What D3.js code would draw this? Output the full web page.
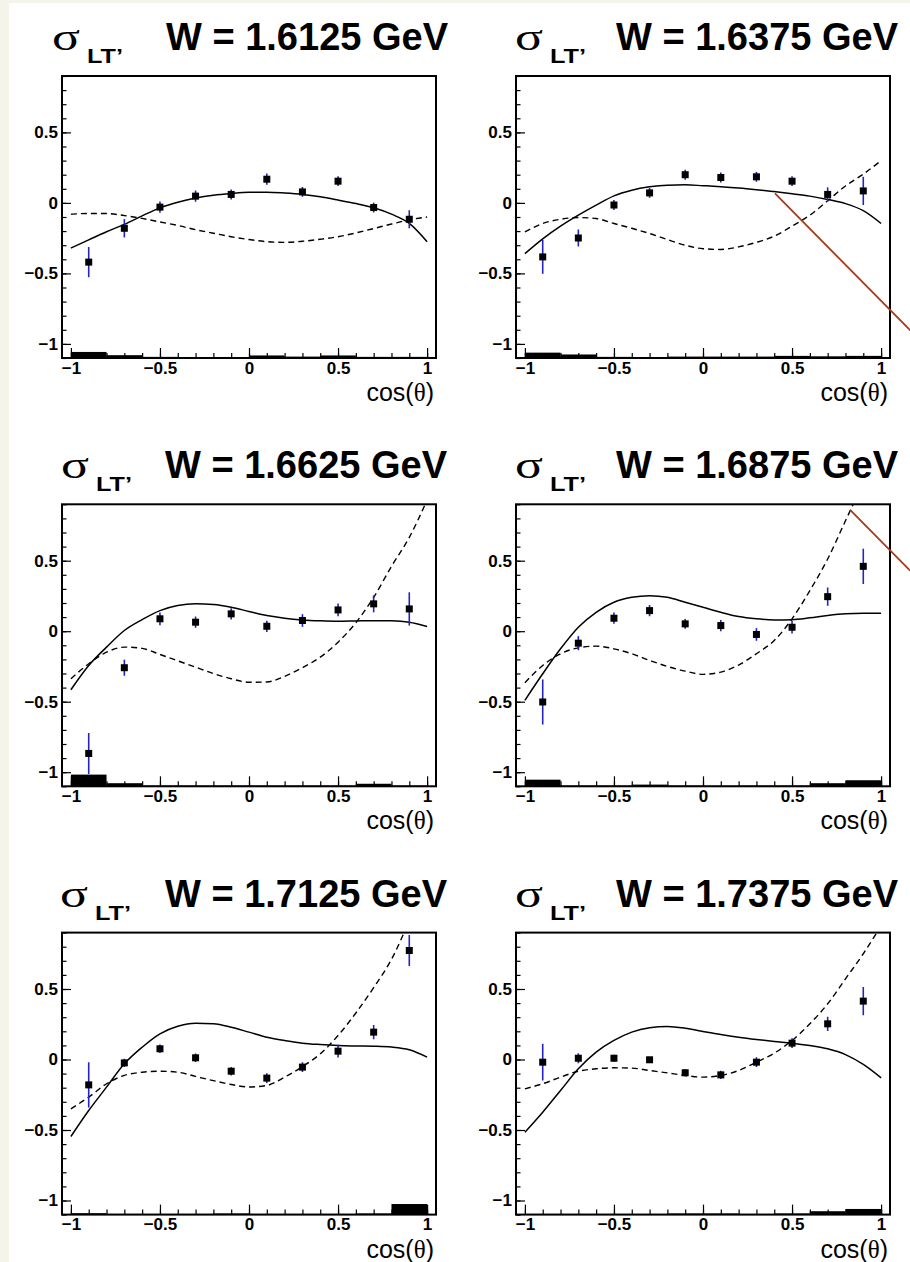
<!DOCTYPE html>
<html>
<head>
<meta charset="utf-8">
<script src="https://cdn.jsdelivr.net/npm/d3@7"></script>
<style>
  html, body { margin: 0; padding: 0; background: #ffffff; }
  svg { display: block; }
</style>
</head>
<body>
<script>
// ---- data -------------------------------------------------------------
const wLabels = ["1.6125", "1.6375", "1.6625", "1.6875", "1.7125", "1.7375"];

const cosBins = [-0.9, -0.7, -0.5, -0.3, -0.1, 0.1, 0.3, 0.5, 0.7, 0.9];

// measured sigma_LT' per W bin
const sigmaValues = [
  [-0.42, -0.18, -0.03, 0.048, 0.06, 0.168, 0.078, 0.154, -0.033, -0.116],
  [-0.383, -0.249, -0.015, 0.071, 0.20, 0.18, 0.185, 0.154, 0.06, 0.085],
  [-0.867, -0.259, 0.088, 0.064, 0.123, 0.035, 0.076, 0.151, 0.194, 0.158],
  [-0.502, -0.085, 0.092, 0.146, 0.052, 0.04, -0.023, 0.028, 0.245, 0.46],
  [-0.18, -0.024, 0.076, 0.012, -0.083, -0.132, -0.054, 0.059, 0.194, 0.773],
  [-0.019, 0.009, 0.009, -0.002, -0.094, -0.109, -0.019, 0.116, 0.253, 0.414]
];

// statistical uncertainties
const statErrors = [
  [0.107, 0.065, 0.04, 0.04, 0.035, 0.04, 0.035, 0.035, 0.035, 0.064],
  [0.12, 0.06, 0.035, 0.035, 0.035, 0.035, 0.035, 0.035, 0.05, 0.1],
  [0.145, 0.057, 0.045, 0.04, 0.04, 0.04, 0.045, 0.045, 0.06, 0.118],
  [0.16, 0.05, 0.04, 0.04, 0.035, 0.04, 0.045, 0.045, 0.065, 0.125],
  [0.16, 0.03, 0.03, 0.03, 0.03, 0.035, 0.035, 0.045, 0.05, 0.11],
  [0.13, 0.035, 0.025, 0.02, 0.025, 0.03, 0.035, 0.035, 0.05, 0.1]
];

// systematic uncertainties (drawn as a histogram on the bottom of the frame)
const sysErrors = [
  [0.043, 0.02, 0.008, 0.005, 0.005, 0.018, 0.01, 0.018, 0.008, 0.008],
  [0.038, 0.025, 0.008, 0.006, 0.01, 0.01, 0.01, 0.015, 0.012, 0.015],
  [0.083, 0.022, 0.005, 0.005, 0.005, 0.005, 0.005, 0.005, 0.018, 0.005],
  [0.047, 0.005, 0.005, 0.012, 0.005, 0.004, 0.005, 0.005, 0.022, 0.043],
  [0.01, 0.005, 0.005, 0.005, 0.008, 0.005, 0.005, 0.005, 0.008, 0.075],
  [0.005, 0.005, 0.005, 0.005, 0.008, 0.008, 0.005, 0.008, 0.024, 0.04]
];

// model curves sampled on a cos(theta) grid
const curveGrid = [-1, -0.9, -0.8, -0.7, -0.6, -0.5, -0.4, -0.3, -0.2, -0.1, 0,
                   0.1, 0.2, 0.3, 0.4, 0.5, 0.6, 0.7, 0.8, 0.9, 1];

const modelSolid = [
  [-0.32, -0.262, -0.205, -0.152, -0.092, -0.035, 0.005, 0.035, 0.055, 0.067, 0.075,
   0.076, 0.07, 0.06, 0.043, 0.02, -0.005, -0.035, -0.08, -0.145, -0.275],
  [-0.36, -0.255, -0.165, -0.087, -0.016, 0.05, 0.09, 0.114, 0.126, 0.128, 0.122,
   0.115, 0.106, 0.094, 0.08, 0.065, 0.048, 0.024, -0.005, -0.055, -0.146],
  [-0.415, -0.243, -0.113, 0.005, 0.082, 0.146, 0.182, 0.194, 0.189, 0.17, 0.14,
   0.111, 0.092, 0.08, 0.074, 0.071, 0.073, 0.075, 0.074, 0.064, 0.033],
  [-0.49, -0.302, -0.125, 0.028, 0.134, 0.205, 0.24, 0.252, 0.24, 0.205, 0.17,
   0.134, 0.104, 0.088, 0.08, 0.082, 0.095, 0.111, 0.123, 0.127, 0.127],
  [-0.546, -0.362, -0.196, -0.031, 0.087, 0.182, 0.236, 0.257, 0.253, 0.229, 0.194,
   0.158, 0.135, 0.116, 0.106, 0.099, 0.096, 0.094, 0.088, 0.069, 0.017],
  [-0.516, -0.374, -0.22, -0.066, 0.052, 0.135, 0.194, 0.225, 0.234, 0.222, 0.199,
   0.177, 0.158, 0.142, 0.128, 0.116, 0.099, 0.076, 0.035, -0.035, -0.13]
];

const modelDashed = [
  [-0.08, -0.075, -0.075, -0.09, -0.11, -0.135, -0.16, -0.19, -0.215, -0.24, -0.26,
   -0.275, -0.28, -0.272, -0.258, -0.24, -0.213, -0.182, -0.15, -0.12, -0.10],
  [-0.206, -0.146, -0.116, -0.104, -0.111, -0.146, -0.18, -0.217, -0.26, -0.30, -0.325,
   -0.33, -0.312, -0.28, -0.236, -0.165, -0.087, 0.015, 0.12, 0.204, 0.30],
  [-0.337, -0.231, -0.149, -0.113, -0.122, -0.165, -0.21, -0.255, -0.30, -0.337, -0.362,
   -0.36, -0.32, -0.259, -0.184, -0.078, 0.06, 0.24, 0.46, 0.665, 0.93],
  [-0.365, -0.243, -0.16, -0.118, -0.106, -0.125, -0.16, -0.207, -0.25, -0.283, -0.306,
   -0.29, -0.24, -0.16, -0.066, 0.088, 0.288, 0.512, 0.783, 1.05, 1.3],
  [-0.35, -0.267, -0.172, -0.113, -0.09, -0.083, -0.09, -0.12, -0.15, -0.177, -0.195,
   -0.184, -0.125, -0.05, 0.04, 0.17, 0.33, 0.51, 0.71, 0.98, 1.25],
  [-0.208, -0.172, -0.125, -0.083, -0.066, -0.059, -0.061, -0.078, -0.095, -0.113, -0.125,
   -0.113, -0.078, -0.019, 0.045, 0.135, 0.253, 0.395, 0.572, 0.75, 0.95]
];

// straight annotation strokes, endpoints in the panel's (cos theta, sigma) units
const pointerLines = [
  null,
  [[0.404, 0.067], [1.164, -0.904]],
  null,
  [[0.826, 0.861], [1.163, 0.43]],
  null,
  null
];

const xTickValues = [-1, -0.5, 0, 0.5, 1];
const xTickLabels = ["\u22121", "\u22120.5", "0", "0.5", "1"];
const yTickValues = [-1, -0.5, 0, 0.5];
const yTickLabels = ["\u22121", "\u22120.5", "0", "0.5"];

// ---- layout -------------------------------------------------------------
const W = 910, H = 1262;
const colLeft = [62, 516];
const rowTop = [76, 504.3, 932.6];
const frameW = 374, frameH = 282;
const sigmaLeft = [52, 515, 61, 515, 60, 515];
const titleRight = [448, 898, 447, 898, 447, 898];

const sans = "'Liberation Sans', Arial, Helvetica, sans-serif";
const serif = "'Liberation Serif', 'Times New Roman', serif";

const svg = d3.select("body").append("svg")
  .attr("width", W).attr("height", H);

svg.append("rect").attr("width", W).attr("height", H).attr("fill", "#ffffff");
svg.append("rect").attr("width", 9).attr("height", H).attr("fill", "#f4f4ea");
svg.append("rect").attr("width", W).attr("height", 3).attr("fill", "#f4f4ea");

const minorX = d3.range(-10, 11).map(i => i / 10);
const minorY = d3.range(-11, 10).map(i => i / 10);

wLabels.forEach((wl, p) => {
  const col = p % 2, row = Math.floor(p / 2);
  const left = colLeft[col], top = rowTop[row];

  const x = d3.scaleLinear().domain([-1.05, 1.05]).range([left, left + frameW]);
  const y = d3.scaleLinear().domain([-1.1, 0.9]).range([top + frameH, top]);

  const g = svg.append("g");
  const clipId = "clip" + p;
  g.append("clipPath").attr("id", clipId)
    .append("rect").attr("x", left).attr("y", top).attr("width", frameW).attr("height", frameH);

  // systematic histogram
  g.append("g").selectAll("rect").data(cosBins).join("rect")
    .attr("x", c => x(c - 0.1))
    .attr("width", c => x(c + 0.1) - x(c - 0.1))
    .attr("y", (c, i) => y(-1.1 + sysErrors[p][i]))
    .attr("height", (c, i) => y(-1.1) - y(-1.1 + sysErrors[p][i]))
    .attr("fill", "#000");

  // axes ticks (inside the frame)
  const yMinor = d3.axisLeft(y).tickValues(minorY).tickSizeInner(-4.5).tickSizeOuter(0).tickFormat("");
  const yMajor = d3.axisLeft(y).tickValues(yTickValues).tickSizeInner(-9).tickSizeOuter(0)
    .tickPadding(4).tickFormat((d, i) => yTickLabels[i]);
  const xMinor = d3.axisBottom(x).tickValues(minorX).tickSizeInner(-5).tickSizeOuter(0).tickFormat("");
  const xMajor = d3.axisBottom(x).tickValues(xTickValues).tickSizeInner(-10).tickSizeOuter(0)
    .tickPadding(3.5).tickFormat((d, i) => xTickLabels[i]);

  [yMinor, yMajor].forEach(ax => {
    const a = g.append("g").attr("transform", `translate(${left},0)`).call(ax);
    a.select(".domain").remove();
    a.selectAll("line").attr("stroke", "#000").attr("stroke-width", 1.2);
  });
  [xMinor, xMajor].forEach(ax => {
    const a = g.append("g").attr("transform", `translate(0,${top + frameH})`).call(ax);
    a.select(".domain").remove();
    a.selectAll("line").attr("stroke", "#000").attr("stroke-width", 1.2);
  });
  g.selectAll(".tick text")
    .attr("font-family", sans).attr("font-size", 17).attr("font-weight", "bold").attr("fill", "#000");

  // frame
  g.append("rect").attr("x", left).attr("y", top).attr("width", frameW).attr("height", frameH)
    .attr("fill", "none").attr("stroke", "#000").attr("stroke-width", 2);

  // model curves
  const line = d3.line().x((d, i) => x(curveGrid[i])).y(d => y(d)).curve(d3.curveMonotoneX);
  const curves = g.append("g").attr("clip-path", `url(#${clipId})`);
  curves.append("path").attr("d", line(modelDashed[p]))
    .attr("fill", "none").attr("stroke", "#000").attr("stroke-width", 1.4)
    .attr("stroke-dasharray", "6,4");
  curves.append("path").attr("d", line(modelSolid[p]))
    .attr("fill", "none").attr("stroke", "#000").attr("stroke-width", 1.5);

  // data points with statistical errors
  const pts = g.append("g").attr("clip-path", `url(#${clipId})`);
  pts.selectAll("line.err").data(cosBins).join("line").attr("class", "err")
    .attr("x1", c => x(c)).attr("x2", c => x(c))
    .attr("y1", (c, i) => y(sigmaValues[p][i] - statErrors[p][i]))
    .attr("y2", (c, i) => y(sigmaValues[p][i] + statErrors[p][i]))
    .attr("stroke", "#2323c8").attr("stroke-width", 1.6);
  pts.selectAll("rect.pt").data(cosBins).join("rect").attr("class", "pt")
    .attr("x", c => x(c) - 3.5).attr("y", (c, i) => y(sigmaValues[p][i]) - 3.5)
    .attr("width", 7).attr("height", 7).attr("fill", "#000");

  // titles: sigma with its LT' subscript, then the W bin
  g.append("text")
    .attr("x", sigmaLeft[p]).attr("y", top - 26)
    .attr("font-family", serif).attr("font-size", 38).attr("fill", "#000")
    .attr("textLength", 28).attr("lengthAdjust", "spacingAndGlyphs")
    .text("\u03c3");
  g.append("text")
    .attr("x", sigmaLeft[p] + 35).attr("y", top - 13)
    .attr("font-family", sans).attr("font-weight", "bold").attr("font-size", 20).attr("fill", "#000")
    .attr("textLength", 36).attr("lengthAdjust", "spacingAndGlyphs")
    .text("LT\u2019");

  g.append("text")
    .attr("x", titleRight[p]).attr("y", top - 26)
    .attr("text-anchor", "end")
    .attr("font-family", sans).attr("font-weight", "bold").attr("font-size", 38)
    .attr("fill", "#000")
    .text(`W = ${wl} GeV`);

  const xl = g.append("text")
    .attr("x", left + frameW - 2).attr("y", top + frameH + 43)
    .attr("text-anchor", "end").attr("font-family", sans).attr("font-size", 25).attr("fill", "#000");
  xl.append("tspan").text("cos(");
  xl.append("tspan").attr("font-family", serif).text("\u03b8");
  xl.append("tspan").text(")");

  // annotation stroke
  if (pointerLines[p]) {
    const [a, b] = pointerLines[p];
    g.append("line")
      .attr("x1", x(a[0])).attr("y1", y(a[1]))
      .attr("x2", x(b[0])).attr("y2", y(b[1]))
      .attr("stroke", "#a53a1c").attr("stroke-width", 1.8);
  }
});
</script>
</body>
</html>
